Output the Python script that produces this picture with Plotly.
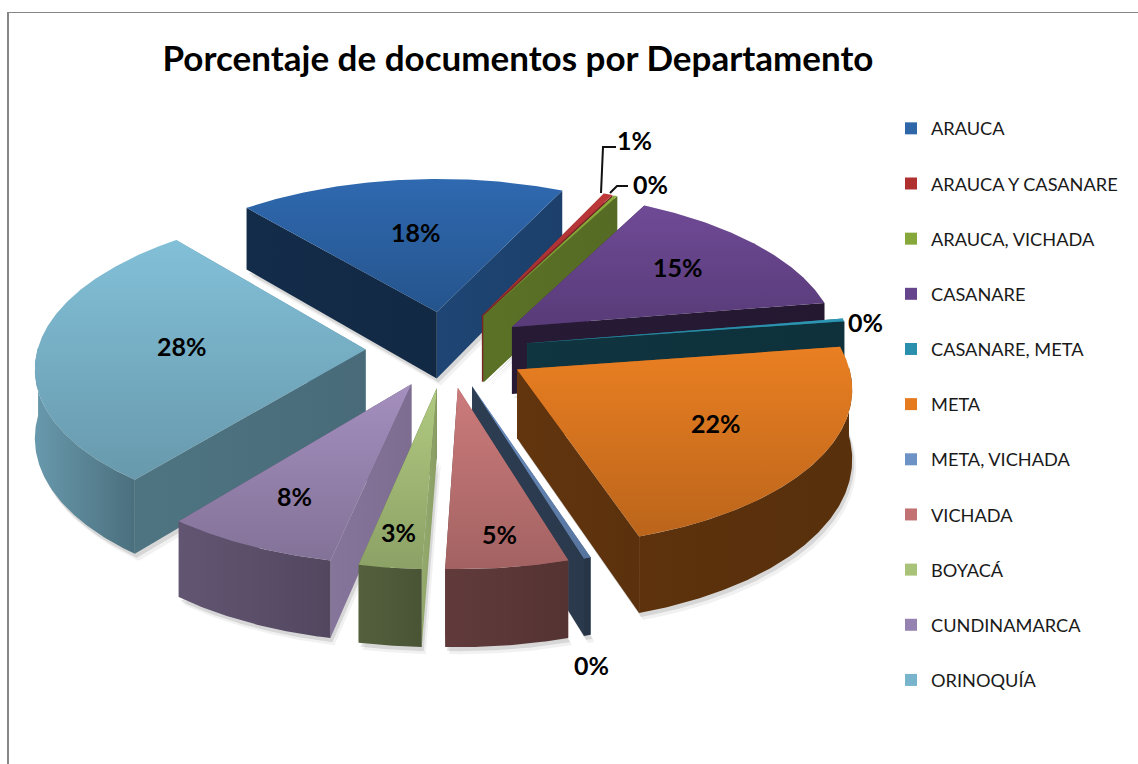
import numpy as np
import plotly.graph_objects as go

categories = ["ARAUCA", "ARAUCA Y CASANARE", "ARAUCA, VICHADA", "CASANARE", "CASANARE, META",
              "META", "META, VICHADA", "VICHADA", "BOYACÁ", "CUNDINAMARCA", "ORINOQUÍA"]
values = [18.1, 0.5, 0.2, 14.7, 0.3, 22.3, 0.3, 5.3, 2.7, 7.5, 28.1]
top_colors = ["#2f69b0", "#c0393a", "#8db03c", "#6f4a96", "#2d9ab8", "#ea7f22",
              "#6d92c5", "#cc7b7b", "#b0ca80", "#a48fbe", "#82c0d8"]
swatch_colors = ["#2e66a8", "#b03030", "#86a83a", "#66458c", "#2a8fac", "#e57a1e",
                 "#6d92c5", "#c27272", "#a8c277", "#9682b0", "#78b4cc"]

# Pie geometry (pixels of the 1138x764 canvas)
START_DEG, CX, CY, R, KR, PERSP, EXPLODE, DEPTH = -40.0, 447, 349, 328, 154, 0.103, 0.248, 68
# label radius, as a fraction of the slice radius; None means outside label
label_frac = [0.55, None, None, 0.67, None, 0.67, None, 0.85, 0.84, 0.74, 0.56]
LABEL_LIFT = 4
outside_labels = [("1%", 634, 140), ("0%", 650, 184), ("0%", 865, 322), ("0%", 591, 665)]
leaders = [([616, 603, 601], [147, 147, 193]), ([628, 617, 610], [186, 186, 193])]


def project(u, v):
    s = 1.0 / (1.0 - PERSP * v)
    return CX + R * u * s, CY + KR * v * s, s


def hexmul(col, f):
    r, g, b = int(col[1:3], 16), int(col[3:5], 16), int(col[5:7], 16)
    return f"rgb({int(r*f)},{int(g*f)},{int(b*f)})"


def wall_shade(normal_deg):
    n = normal_deg % 360
    return float(np.interp(n, [0, 90, 102, 115, 130, 173, 200, 230, 253, 270, 360],
                           [.7, .85, .82, .66, .6, .34, .38, .42, .42, .5, .7]))


fig = go.Figure()

# legend entries
for name, col in zip(categories, swatch_colors):
    fig.add_trace(go.Scatter(x=[None], y=[None], mode="markers", name=name, legendgroup=name,
                             marker=dict(symbol="square", size=12, color=col), hoverinfo="skip"))


def poly(xs, ys, color=None, grad=None):
    kw = dict(fillcolor=color) if color else {}
    if grad:
        kind, c0, c1 = grad
        arr = ys if kind == "vertical" else xs
        kw["fillgradient"] = dict(type=kind, start=float(min(arr)), stop=float(max(arr)),
                                  colorscale=[[0, c0], [1, c1]])
    fig.add_trace(go.Scatter(x=list(xs), y=list(ys), mode="lines", fill="toself",
                             line=dict(width=0), showlegend=False, hoverinfo="skip", **kw))


edges = START_DEG + np.cumsum([0] + values) * 3.6
slices = []
for i, val in enumerate(values):
    a0, a1 = edges[i], edges[i + 1]
    mid = np.radians((a0 + a1) / 2)
    ex_u, ex_v = EXPLODE * np.sin(mid), -EXPLODE * np.cos(mid)
    th = np.radians(np.linspace(a0, a1, max(4, int((a1 - a0) * 2))))
    au, av = ex_u + np.sin(th), ex_v - np.cos(th)
    slices.append(dict(i=i, a0=a0, a1=a1, mid=mid, ex_u=ex_u, ex_v=ex_v, th=th, au=au, av=av))

# soft ground shadows
for sl in slices:
    bx, by, bs = project(np.r_[sl["ex_u"], sl["au"]], np.r_[sl["ex_v"], sl["av"]])
    by = by + DEPTH * bs
    for dx, dy, alpha in [(4, 7, .07), (2, 4, .14)]:
        poly(bx + dx, by + dy, color=f"rgba(60,60,60,{alpha})")

for sl in sorted(slices, key=lambda s: -np.cos(s["mid"])):
    col = top_colors[sl["i"]]
    ax, ay, as_ = project(sl["ex_u"], sl["ex_v"])
    ox, oy, os_ = project(sl["au"], sl["av"])

    # radial walls, those facing away from the viewer first
    walls = [(ox[0], oy[0], os_[0], sl["a0"] - 90), (ox[-1], oy[-1], os_[-1], sl["a1"] + 90)]
    walls.sort(key=lambda w: -np.cos(np.radians(w[3])))
    for xe, ye, se, normal in walls:
        f = wall_shade(normal)
        poly([ax, xe, xe, ax, ax], [ay, ye, ye + DEPTH * se, ay + DEPTH * as_, ay],
             grad=("horizontal", hexmul(col, f), hexmul(col, f * 0.93)))

    # outer wall, only the part that faces the viewer
    vis = np.cos(sl["th"]) < 0.02
    if vis.sum() >= 2:
        vx, vy, vs = ox[vis], oy[vis], os_[vis]
        fl = wall_shade(np.degrees(sl["th"][vis][0]))
        fr = wall_shade(np.degrees(sl["th"][vis][-1]))
        f0, f1 = max(fl, fr) * 0.9, min(fl, fr) * 0.9
        if sl["i"] == 10:
            f0, f1 = 0.8, 0.58
        elif sl["i"] == 5:
            f0, f1 = 0.4, 0.38
        elif sl["i"] in (7, 8):
            f0, f1 = 0.48, 0.42
        elif sl["i"] == 9:
            f0, f1 = 0.6, 0.5
        poly(np.r_[vx, vx[::-1]], np.r_[vy, (vy + DEPTH * vs)[::-1]],
             grad=("horizontal", hexmul(col, f0), hexmul(col, f1)))

    # top face
    tx, ty = np.r_[ax, ox, ax], np.r_[ay, oy, ay]
    poly(tx, ty, grad=("vertical", hexmul(col, 1.0), hexmul(col, 0.8)))

for lx, ly in leaders:
    fig.add_trace(go.Scatter(x=lx, y=ly, mode="lines", line=dict(color="#111111", width=2),
                             showlegend=False, hoverinfo="skip"))

annotations = []
for sl in slices:
    frac = label_frac[sl["i"]]
    if frac is None:
        continue
    x, y, _ = project(sl["ex_u"] + frac * np.sin(sl["mid"]), sl["ex_v"] - frac * np.cos(sl["mid"]))
    annotations.append((f"{int(values[sl['i']] + 0.5)}%", float(x), float(y) - LABEL_LIFT))
annotations += outside_labels

fig.update_layout(
    width=1138, height=764, margin=dict(l=0, r=0, t=0, b=0),
    paper_bgcolor="white", plot_bgcolor="white", hovermode=False,
    xaxis=dict(range=[0, 1138], visible=False, fixedrange=True),
    yaxis=dict(range=[764, 0], visible=False, fixedrange=True),
    title=dict(text="<b>Porcentaje de documentos por Departamento</b>", x=518 / 1138, xanchor="center",
               xref="paper", y=1 - 59 / 764, yanchor="middle", yref="container",
               font=dict(family="Lato", size=35, color="black")),
    legend=dict(x=891 / 1138, y=1 - 110 / 764, xanchor="left", yanchor="top", bgcolor="rgba(0,0,0,0)",
                tracegroupgap=28.5, font=dict(family="Lato", size=18.2, color="#1a1a1a"),
                itemclick=False, itemdoubleclick=False),
    annotations=[dict(text=f"<b>{t}</b>", x=x, y=y, xref="x", yref="y", showarrow=False,
                      font=dict(family="Lato", size=25, color="black")) for t, x, y in annotations],
    shapes=[dict(type="line", xref="x", yref="y", x0=8, x1=8, y0=12, y1=764, line=dict(color="#868686", width=2)),
            dict(type="line", xref="x", yref="y", x0=7, x1=1138, y0=12.5, y1=12.5, line=dict(color="#868686", width=1))],
)
fig.write_html("out.html", config={"displayModeBar": False},
               post_script="document.body.style.margin='0';document.body.style.overflow='hidden';")
